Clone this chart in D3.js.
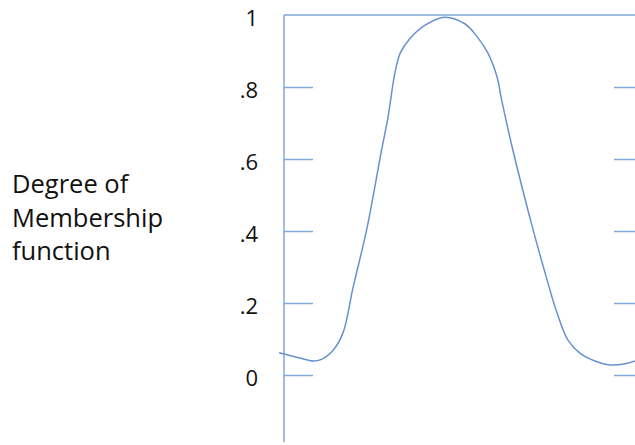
<!DOCTYPE html>
<html>
<head>
<meta charset="utf-8">
<script src="https://cdn.jsdelivr.net/npm/d3@7"></script>
<style>
  html, body { margin: 0; padding: 0; background: #fff; }
  svg { display: block; }
</style>
</head>
<body>
<svg id="chart" width="635" height="445"></svg>
<script>
// ---- data ----
const yTickValues = [0, 0.2, 0.4, 0.6, 0.8, 1];
const yTickLabels = ["0", ".2", ".4", ".6", ".8", "1"];
const axisTitleLines = ["Degree of", "Membership", "function"];
const curveX = [-0.14, 0.46, 0.83, 1.03, 1.4, 1.68, 1.97, 2.36, 2.78, 2.96, 3.16, 3.31, 3.59, 4.02, 4.59, 5.16, 5.5, 5.81, 6.07, 6.2, 6.52, 7.09, 7.44, 7.78, 8.09, 8.43, 8.86, 9.29, 9.72, 10];
const curveY = [0.062, 0.047, 0.039, 0.042, 0.069, 0.117, 0.244, 0.406, 0.625, 0.714, 0.839, 0.894, 0.935, 0.972, 0.994, 0.975, 0.94, 0.894, 0.828, 0.764, 0.625, 0.406, 0.283, 0.172, 0.097, 0.061, 0.039, 0.028, 0.031, 0.039];

// ---- layout ----
const svg = d3.select("#chart");
const x = d3.scaleLinear().domain([0, 10]).range([284, 635]);
const y = d3.scaleLinear().domain([0, 1]).range([375, 15]);
const axisColor = "#82a7da";
const curveColor = "#6892cf";
const font = "'Open Sans', sans-serif";

// vertical axis line
svg.append("line")
  .attr("x1", x(0)).attr("x2", x(0))
  .attr("y1", y(1)).attr("y2", 442)
  .attr("stroke", axisColor).attr("stroke-width", 1.5);

// top line
svg.append("line")
  .attr("x1", x(0)).attr("x2", x(10))
  .attr("y1", y(1)).attr("y2", y(1))
  .attr("stroke", axisColor).attr("stroke-width", 1.5);

// left axis ticks (pointing inward)
const innerTicks = yTickValues.filter(v => v < 1);
const leftAxis = d3.axisRight(y).tickValues(innerTicks).tickSize(29).tickFormat("");
const gL = svg.append("g").attr("transform", `translate(${x(0)},0)`).call(leftAxis);
gL.select(".domain").remove();
gL.selectAll(".tick line").attr("stroke", axisColor).attr("stroke-width", 1.5);

// right ticks
const rightAxis = d3.axisLeft(y).tickValues(innerTicks).tickSize(21).tickFormat("");
const gR = svg.append("g").attr("transform", `translate(${x(10)},0)`).call(rightAxis);
gR.select(".domain").remove();
gR.selectAll(".tick line").attr("stroke", axisColor).attr("stroke-width", 1.5);

// tick labels
svg.append("g").selectAll("text")
  .data(yTickValues)
  .join("text")
  .attr("x", 258)
  .attr("y", d => y(d) + 10.5)
  .attr("text-anchor", "end")
  .attr("font-family", font)
  .attr("font-size", 22)
  .attr("fill", "#111")
  .text((d, i) => yTickLabels[i]);

// y title
svg.append("g").selectAll("text")
  .data(axisTitleLines)
  .join("text")
  .attr("x", 12)
  .attr("y", (d, i) => 193 + i * 33.5)
  .attr("font-family", font)
  .attr("font-size", 25.5)
  .attr("fill", "#111")
  .text(d => d);

// curve
const pts = curveX.map((v, i) => [v, curveY[i]]);
svg.append("path")
  .datum(pts)
  .attr("fill", "none")
  .attr("stroke", curveColor)
  .attr("stroke-width", 1.5)
  .attr("d", d3.line().x(d => x(d[0])).y(d => y(d[1])).curve(d3.curveCatmullRom.alpha(0.5)));
</script>
</body>
</html>
